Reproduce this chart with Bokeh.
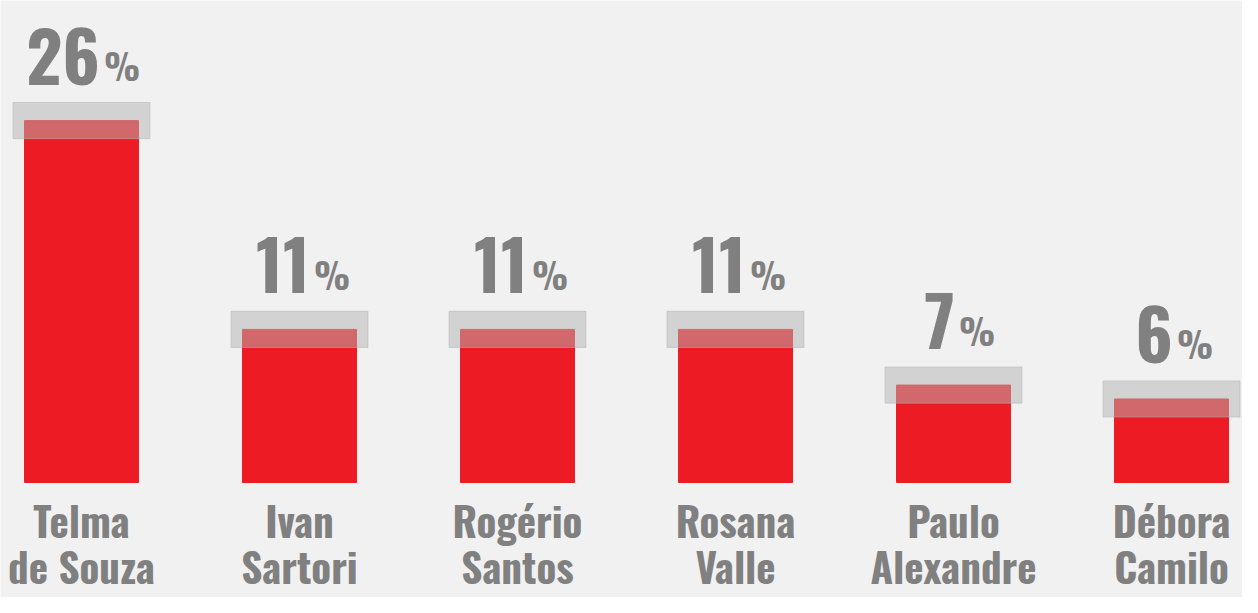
from bokeh.plotting import figure
from bokeh.models import ColumnDataSource
from bokeh.core.properties import value
from bokeh.embed import file_html
from bokeh.resources import INLINE

# data
first_names = ["Telma", "Ivan", "Rogério", "Rosana", "Paulo", "Débora"]
last_names = ["de Souza", "Sartori", "Santos", "Valle", "Alexandre", "Camilo"]
pcts = [26, 11, 11, 11, 7, 6]
margins = [1.3, 1.3, 1.3, 1.3, 1.3, 1.3]

FONT = "Oswald"
BG = "#f1f1f1"
GRAY = "#808080"
RED = "#ed1c24"

W, H = 1242, 597
step = 218.0      # px between bar centres
pxu = 13.92       # px per percentage point
x_start = -81.0 / step
y_end = 482.0 / pxu

# approximate glyph widths (px) used to centre "NN%" over each bar
DIGIT_W = {"1": 26}
DEF_W, PCT_W, GAP = 34, 33, 4

def split_pos(x, v):
    s = str(v)
    dw = sum(DIGIT_W.get(ch, DEF_W) for ch in s)
    total = dw + GAP + PCT_W
    return x + (-total / 2 + 3 + dw) / step

xs = list(range(len(pcts)))
src = ColumnDataSource(dict(
    x=xs, pct=pcts,
    lo=[v - m for v, m in zip(pcts, margins)],
    hi=[v + m for v, m in zip(pcts, margins)],
    num=[str(v) for v in pcts],
    pc=["%"] * len(pcts),
    first=first_names, last=last_names,
    split=[split_pos(x, v) for x, v in zip(xs, pcts)],
    zero=[0] * len(pcts),
))

p = figure(width=W, height=H, output_backend="svg", toolbar_location=None,
           x_range=(x_start, x_start + W / step), y_range=(y_end - H / pxu, y_end),
           min_border=0, background_fill_color=BG, border_fill_color=BG)
p.axis.visible = False
p.grid.visible = False
p.outline_line_color = None

p.vbar(x="x", top="pct", bottom=0, width=114 / step, color=RED, source=src)
p.vbar(x="x", top="hi", bottom="lo", width=137 / step, color="#b4b4b4", alpha=0.5, source=src)

p.text(x="split", y="pct", text="num", source=src, text_align="right", text_baseline="alphabetic",
       y_offset=-64, text_font=value(FONT), text_font_style="bold", text_font_size="70px", text_color=GRAY)
p.text(x="split", y="pct", text="pc", source=src, text_align="left", text_baseline="alphabetic",
       x_offset=GAP, y_offset=-56, text_font=value(FONT), text_font_style="bold", text_font_size="36px", text_color=GRAY)
p.text(x="x", y="zero", text="first", source=src, text_align="center", text_baseline="alphabetic",
       y_offset=37, text_font=value(FONT), text_font_style="bold", text_font_size="41px", text_color=GRAY)
p.text(x="x", y="zero", text="last", source=src, text_align="center", text_baseline="alphabetic",
       y_offset=83, text_font=value(FONT), text_font_style="bold", text_font_size="41px", text_color=GRAY)

open("out.html", "w").write(file_html(p, INLINE))
